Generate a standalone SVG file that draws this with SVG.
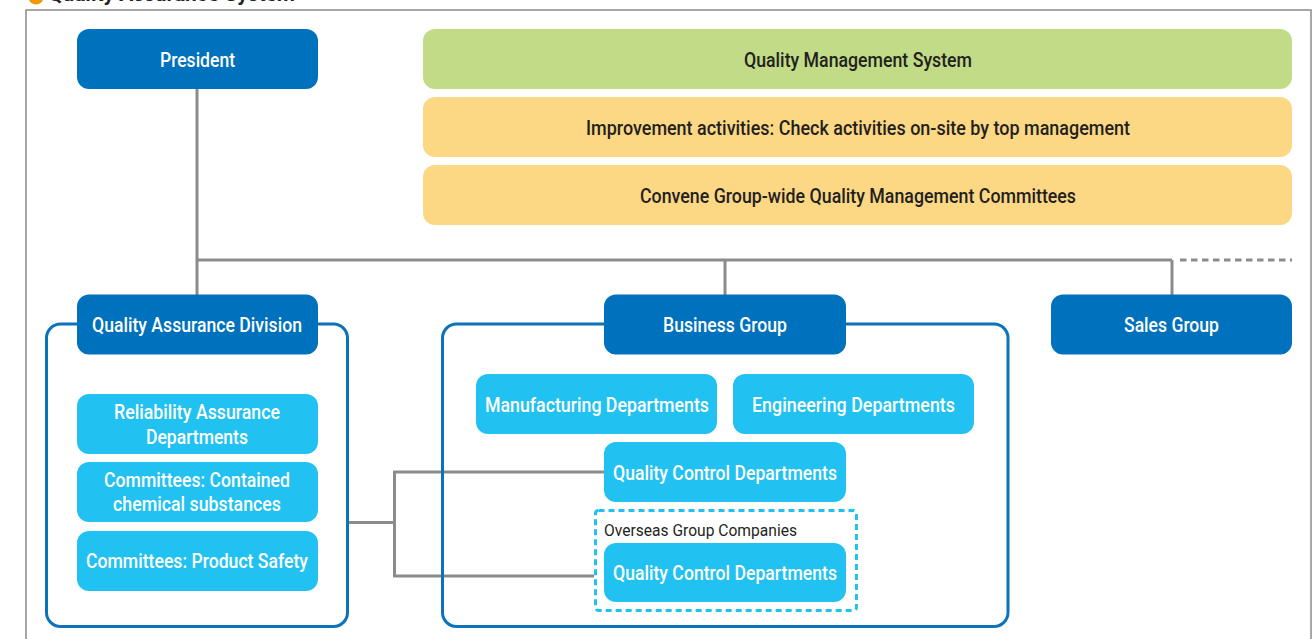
<svg xmlns="http://www.w3.org/2000/svg" width="1316" height="639" viewBox="0 0 1316 639">
<style>
.t{font-family:Roboto,"Liberation Sans",Arial,sans-serif;font-weight:500;font-size:20px;text-anchor:middle}
.w{fill:#ffffff}
.d{fill:#231f20}
.dark{fill:#0071bc}
.light{fill:#21c2f1}
.frame{fill:none;stroke:#0b72bc;stroke-width:3}
.conn{fill:none;stroke:#8b8b8d;stroke-width:3}
</style>
<rect x="0" y="0" width="1316" height="639" fill="#ffffff"/>
<g id="title">
<circle cx="36" cy="-3" r="7.5" fill="#f39800"/>
<text x="48" y="1" font-family="Roboto, Liberation Sans, Arial, sans-serif" font-size="20" font-weight="bold" fill="#231f20" textLength="247" lengthAdjust="spacingAndGlyphs">Quality Assurance System</text>
</g>
<rect x="26" y="10" width="1285" height="650" fill="none" stroke="#8b8b8d" stroke-width="1.5"/>
<g id="connectors">
<path class="conn" d="M197 89V295M197 260H1172M725 260V295M1172 260V295"/>
<path class="conn" d="M1180 260H1292" stroke-dasharray="6.5 4.5"/>
<path class="conn" d="M348 522.5H394.5M394.5 472V576M393 472H604M393 576H594"/>
</g>
<g id="frames">
<rect class="frame" x="46.5" y="324" width="301" height="302.5" rx="14"/>
<rect class="frame" x="442.5" y="324" width="565.5" height="302.5" rx="14"/>
</g>
<g id="president">
<rect class="dark" x="77" y="29" width="241" height="60" rx="12"/>
<text class="t w" x="197.5" y="66.5" textLength="75" lengthAdjust="spacingAndGlyphs">President</text>
</g>
<g id="qms">
<rect x="423" y="29" width="869" height="60" rx="12" fill="#c2db86"/>
<text class="t d" x="858" y="66.5" textLength="228" lengthAdjust="spacingAndGlyphs">Quality Management System</text>
</g>
<g id="improvement">
<rect x="423" y="97" width="869" height="60" rx="12" fill="#fcd884"/>
<text class="t d" x="858" y="134.5" textLength="544" lengthAdjust="spacingAndGlyphs">Improvement activities: Check activities on-site by top management</text>
</g>
<g id="convene">
<rect x="423" y="165" width="869" height="60" rx="12" fill="#fcd884"/>
<text class="t d" x="858" y="202.5" textLength="436" lengthAdjust="spacingAndGlyphs">Convene Group-wide Quality Management Committees</text>
</g>
<g id="qad">
<rect class="dark" x="77" y="294.5" width="241" height="60" rx="12"/>
<text class="t w" x="197" y="331.5" textLength="210" lengthAdjust="spacingAndGlyphs">Quality Assurance Division</text>
</g>
<g id="business">
<rect class="dark" x="604" y="294.5" width="242" height="60" rx="12"/>
<text class="t w" x="725" y="331.5" textLength="124" lengthAdjust="spacingAndGlyphs">Business Group</text>
</g>
<g id="sales">
<rect class="dark" x="1051" y="294.5" width="241" height="60" rx="12"/>
<text class="t w" x="1171.5" y="331.5" textLength="95" lengthAdjust="spacingAndGlyphs">Sales Group</text>
</g>
<g id="reliability">
<rect class="light" x="77" y="394" width="241" height="60" rx="12"/>
<text class="t w" x="197" y="419" textLength="166" lengthAdjust="spacingAndGlyphs">Reliability Assurance</text>
<text class="t w" x="197" y="444" textLength="102" lengthAdjust="spacingAndGlyphs">Departments</text>
</g>
<g id="chemical">
<rect class="light" x="77" y="462" width="241" height="60" rx="12"/>
<text class="t w" x="197" y="487" textLength="186" lengthAdjust="spacingAndGlyphs">Committees: Contained</text>
<text class="t w" x="197" y="510.5" textLength="168" lengthAdjust="spacingAndGlyphs">chemical substances</text>
</g>
<g id="safety">
<rect class="light" x="77" y="531" width="241" height="60" rx="12"/>
<text class="t w" x="197" y="568" textLength="222" lengthAdjust="spacingAndGlyphs">Committees: Product Safety</text>
</g>
<g id="manufacturing">
<rect class="light" x="476" y="374" width="241" height="60" rx="12"/>
<text class="t w" x="597" y="411.5" textLength="224" lengthAdjust="spacingAndGlyphs">Manufacturing Departments</text>
</g>
<g id="engineering">
<rect class="light" x="733" y="374" width="241" height="60" rx="12"/>
<text class="t w" x="853.5" y="411.5" textLength="203" lengthAdjust="spacingAndGlyphs">Engineering Departments</text>
</g>
<g id="qc1">
<rect class="light" x="604" y="442" width="242" height="60" rx="12"/>
<text class="t w" x="725" y="479.5" textLength="224" lengthAdjust="spacingAndGlyphs">Quality Control Departments</text>
</g>
<g id="overseas">
<rect x="595.5" y="510.5" width="261" height="100" rx="3" fill="none" stroke="#21c2f1" stroke-width="3" stroke-dasharray="6 4"/>
<text x="604" y="536" font-family="Roboto, Liberation Sans, Arial, sans-serif" font-size="16" fill="#231f20" textLength="193" lengthAdjust="spacingAndGlyphs">Overseas Group Companies</text>
</g>
<g id="qc2">
<rect class="light" x="604" y="543" width="242" height="59" rx="12"/>
<text class="t w" x="725" y="580" textLength="224" lengthAdjust="spacingAndGlyphs">Quality Control Departments</text>
</g>
</svg>
